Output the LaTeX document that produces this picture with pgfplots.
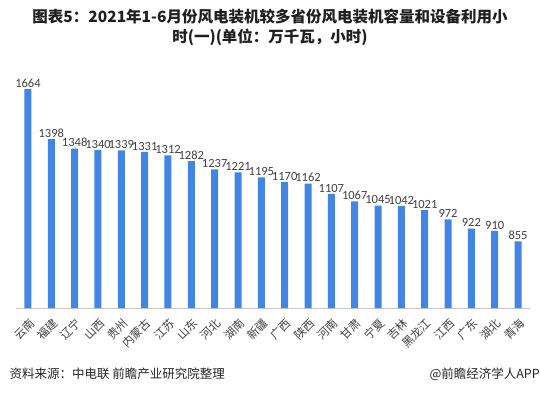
\documentclass[border=0pt]{standalone}
\usepackage{pgfplots}
\pgfplotsset{compat=1.18}
\usepackage{fontspec}
\setmainfont{Noto Sans CJK SC}
\newfontfamily\numfont{Carlito}
\definecolor{barblue}{RGB}{66,133,228}
\definecolor{txt}{RGB}{64,64,64}
\begin{document}
\begin{tikzpicture}[x=1pt,y=1pt]
\useasboundingbox (0,0) rectangle (540,394);
\node[align=center, font=\fontsize{15.5}{20}\selectfont\bfseries, text=black!88] at (270,367)
  {图表5：2021年1-6月份风电装机较多省份风电装机容量和设备利用小\\时(一)(单位：万千瓦，小时)};
\begin{axis}[at={(16pt,86pt)}, anchor=south west, scale only axis,
  width=514pt, height=228pt,
  xmin=-0.514, xmax=21.514, ymin=500, ymax=1713,
  axis y line=none, axis x line*=bottom,
  x axis line style={draw=black!22, line width=0.8pt, -},
  ytick=\empty,
  xtick={0,...,21},
  major tick length=0pt,
  xticklabels={云南,福建,辽宁,山西,贵州,内蒙古,江苏,山东,河北,湖南,新疆,广西,陕西,河南,甘肃,宁夏,吉林,黑龙江,江西,广东,湖北,青海},
  xticklabel style={xshift=4.5pt, yshift=-13pt, rotate=45, anchor=east, font=\fontsize{11.5}{12}\selectfont, text=txt, inner sep=0pt},
  ybar, bar width=7pt,
  nodes near coords={\pgfmathprintnumber[1000 sep={},assume math mode=true]{\pgfplotspointmeta}},
  every node near coord/.append style={font=\numfont\fontsize{12.5}{12}\selectfont, text=txt, inner sep=1.5pt},
  clip=false,
]
\addplot[fill=barblue, draw=none] coordinates {
(0,1664) (1,1398) (2,1348) (3,1340) (4,1339) (5,1331) (6,1312) (7,1282)
(8,1237) (9,1221) (10,1195) (11,1170) (12,1162) (13,1107) (14,1067) (15,1045)
(16,1042) (17,1021) (18,972) (19,922) (20,910) (21,855)};
\end{axis}
\node[anchor=west, font=\fontsize{12.5}{14}\selectfont, text=black!85] at (6,20) {资料来源：中电联 前瞻产业研究院整理};
\node[anchor=east, font=\fontsize{12.5}{14}\selectfont, text=black!85, inner sep=0pt] at (540,20) {@前瞻经济学人APP};
\end{tikzpicture}
\end{document}
